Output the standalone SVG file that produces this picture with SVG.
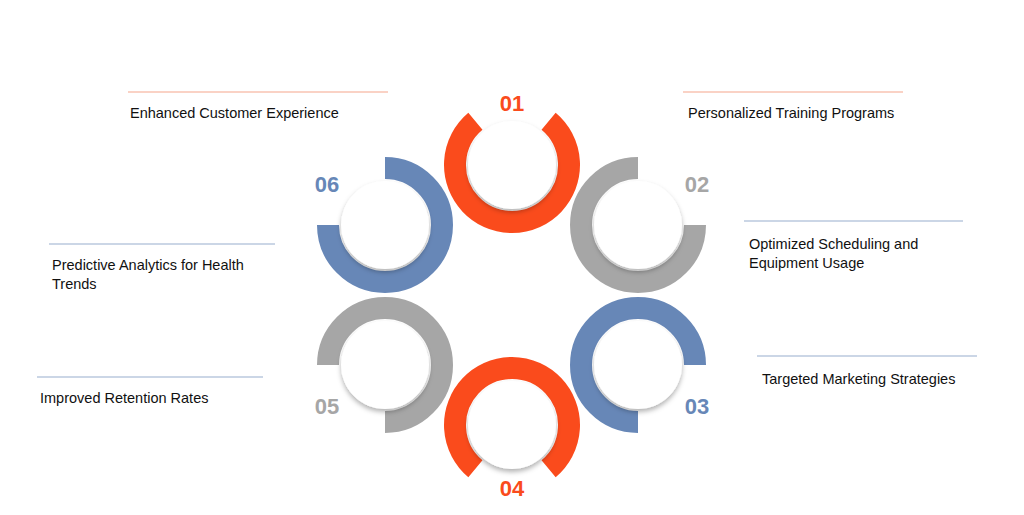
<svg xmlns="http://www.w3.org/2000/svg" width="1024" height="515" viewBox="0 0 1024 515">
<style>
.r{fill:none;stroke-width:22}
.o{stroke:#FA4B1C}.g{stroke:#A6A6A6}.b{stroke:#6787B7}
.c{fill:#fff;filter:url(#sh)}
.n{font-family:"Liberation Sans",Arial,sans-serif;font-weight:bold;font-size:22px;text-anchor:middle}
.t{font-family:"Liberation Sans",Arial,sans-serif;font-size:14.5px;fill:#111}
.lo{stroke:#F5A68C;stroke-width:1.2}.lb{stroke:#98ADCD;stroke-width:1.2}
</style>
<defs><filter id="sh" x="-30%" y="-30%" width="160%" height="170%"><feDropShadow dx="0" dy="3" stdDeviation="2.5" flood-color="#000" flood-opacity="0.3"/></filter></defs>
<rect width="1024" height="515" fill="#fff"/>
<g id="lines">
<line class="lo" x1="128" y1="92" x2="388" y2="92"/>
<line class="lo" x1="683" y1="92" x2="903" y2="92"/>
<line class="lb" x1="744" y1="221" x2="963" y2="221"/>
<line class="lb" x1="757" y1="356" x2="977" y2="356"/>
<line class="lb" x1="49" y1="244" x2="275" y2="244"/>
<line class="lb" x1="37" y1="377" x2="263" y2="377"/>
</g>
<g id="n1"><path class="r o" d="M548.6,121.3 A57 57 0 1 1 475.4 121.3"/><circle class="c" cx="512" cy="165" r="44"/><text class="n" x="512" y="111" fill="#FA4B1C">01</text><text class="t" x="130" y="118">Enhanced Customer Experience</text></g>
<g id="n2"><path class="r g" d="M695,225 A57 57 0 1 1 638 168"/><circle class="c" cx="638" cy="225" r="44"/><text class="n" x="697" y="192" fill="#A6A6A6">02</text><text class="t" x="688" y="118">Personalized Training Programs</text></g>
<g id="n3"><path class="r b" d="M638,422 A57 57 0 1 1 695 365"/><circle class="c" cx="638" cy="365" r="44"/><text class="n" x="697" y="414" fill="#6787B7">03</text><text class="t" x="749" y="249">Optimized Scheduling and</text><text class="t" x="749" y="268">Equipment Usage</text></g>
<g id="n4"><path class="r o" d="M475.4,468.7 A57 57 0 1 1 548.6 468.7"/><circle class="c" cx="512" cy="425" r="44"/><text class="n" x="512" y="496" fill="#FA4B1C">04</text><text class="t" x="762" y="384">Targeted Marketing Strategies</text></g>
<g id="n5"><path class="r g" d="M328,365 A57 57 0 1 1 385 422"/><circle class="c" cx="385" cy="365" r="44"/><text class="n" x="327" y="414" fill="#A6A6A6">05</text><text class="t" x="40" y="403">Improved Retention Rates</text></g>
<g id="n6"><path class="r b" d="M385,168 A57 57 0 1 1 328 225"/><circle class="c" cx="385" cy="225" r="44"/><text class="n" x="327" y="192" fill="#6787B7">06</text><text class="t" x="52" y="270">Predictive Analytics for Health</text><text class="t" x="52" y="289">Trends</text></g>
</svg>
